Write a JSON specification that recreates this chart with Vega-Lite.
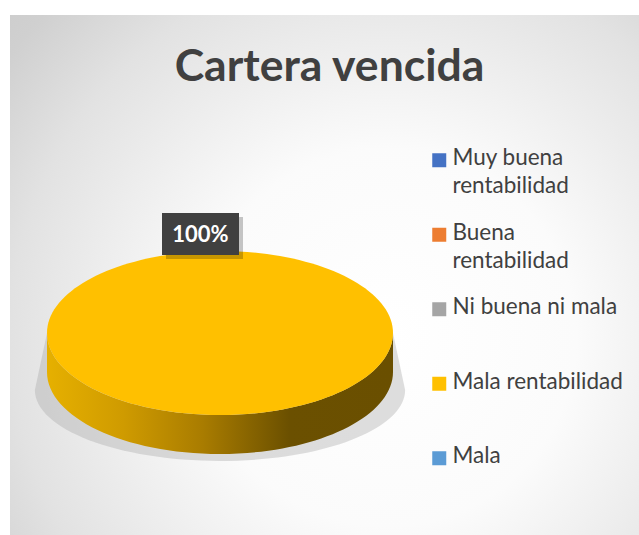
{
  "$schema": "https://vega.github.io/schema/vega-lite/v6.json",
  "width": 629,
  "height": 520,
  "autosize": {"type": "none"},
  "padding": {"left": 10, "top": 15, "right": 0, "bottom": 0},
  "background": "#ffffff",
  "title": {
    "text": "Cartera vencida",
    "font": "Lato",
    "fontSize": 44.5,
    "fontWeight": "bold",
    "color": "#404040",
    "anchor": "middle",
    "frame": "group",
    "offset": -75,
    "dx": 5
  },
  "config": {"view": {"stroke": "#bfbfbf", "strokeWidth": 1}},
  "data": {
    "values": [
      {"categoria": "Muy buena rentabilidad", "porcentaje": 0},
      {"categoria": "Buena rentabilidad", "porcentaje": 0},
      {"categoria": "Ni buena ni mala", "porcentaje": 0},
      {"categoria": "Mala rentabilidad", "porcentaje": 1},
      {"categoria": "Mala", "porcentaje": 0}
    ]
  },
  "layer": [
    {
      "transform": [{"filter": "datum.porcentaje > 0"}],
      "mark": {
        "type": "rect",
        "fill": {
          "gradient": "radial",
          "x1": 0.6, "y1": 0.6, "r1": 0,
          "x2": 0.6, "y2": 0.6, "r2": 1,
          "stops": [
            {"offset": 0, "color": "#ffffff"},
            {"offset": 0.3, "color": "#fbfbfb"},
            {"offset": 0.6, "color": "#e2e2e2"},
            {"offset": 0.75, "color": "#d0d0d0"},
            {"offset": 0.9, "color": "#c8c8c8"},
            {"offset": 1, "color": "#c6c6c6"}
          ]
        }
      },
      "encoding": {}
    },
    {
      "transform": [{"filter": "datum.porcentaje > 0"}],
      "mark": {
        "type": "point",
        "shape": "M -1,0 L -1.07,0.33 A 1.07,0.41 0 0,0 1.07,0.33 L 1,0 Z",
        "size": 119716,
        "filled": true,
        "fill": "#a8a8a8",
        "opacity": 0.38,
        "strokeWidth": 0,
        "xOffset": -104.5,
        "yOffset": 58
      },
      "encoding": {}
    },
    {
      "transform": [{"filter": "datum.porcentaje > 0"}],
      "mark": {
        "type": "point",
        "shape": "M -1,0 A 1,0.474 0 0,0 1,0 L 1,0.225 A 1,0.474 0 0,1 -1,0.225 Z",
        "size": 119716,
        "filled": true,
        "opacity": 1,
        "strokeWidth": 0,
        "fill": {
          "gradient": "linear",
          "x1": 0, "y1": 0, "x2": 1, "y2": 0,
          "stops": [
            {"offset": 0, "color": "#e6b000"},
            {"offset": 0.22, "color": "#cf9b00"},
            {"offset": 0.45, "color": "#a97c00"},
            {"offset": 0.7, "color": "#6b5000"},
            {"offset": 1, "color": "#6a4f00"}
          ]
        },
        "xOffset": -104.5,
        "yOffset": 58
      },
      "encoding": {}
    },
    {
      "transform": [{"filter": "datum.porcentaje > 0"}],
      "mark": {
        "type": "point",
        "shape": "M -1,0 A 1,0.474 0 1,0 1,0 A 1,0.474 0 1,0 -1,0 Z",
        "size": 119716,
        "filled": true,
        "opacity": 1,
        "strokeWidth": 0,
        "xOffset": -104.5,
        "yOffset": 58
      },
      "encoding": {
        "color": {
          "field": "categoria",
          "type": "nominal",
          "scale": {
            "domain": ["Muy buena rentabilidad", "Buena rentabilidad", "Ni buena ni mala", "Mala rentabilidad", "Mala"],
            "range": ["#4472c4", "#ed7d31", "#a5a5a5", "#ffc000", "#5b9bd5"]
          },
          "legend": {
            "orient": "none",
            "legendX": 418,
            "legendY": 134,
            "title": null,
            "symbolType": "square",
            "symbolSize": 196,
            "symbolStrokeWidth": 0,
            "symbolOpacity": 1,
            "labelFont": "Lato",
            "labelFontSize": 22.5,
            "labelColor": "#404040",
            "labelOffset": 2,
            "labelLimit": 300,
            "labelBaseline": "top",
            "rowPadding": 23.5,
            "labelExpr": "datum.label == 'Muy buena rentabilidad' ? ['Muy buena', 'rentabilidad'] : datum.label == 'Buena rentabilidad' ? ['Buena', 'rentabilidad'] : [datum.label, '']",
            "encode": {
              "labels": {"update": {"lineHeight": {"value": 28}, "dy": {"value": -13}}}
            }
          }
        }
      }
    },
    {
      "transform": [{"filter": "datum.porcentaje > 0"}],
      "mark": {
        "type": "point",
        "shape": "M -1,-0.545 L 1,-0.545 L 1,0.545 L -1,0.545 Z",
        "size": 5929,
        "filled": true,
        "fill": "#000000",
        "opacity": 0.22,
        "strokeWidth": 0,
        "xOffset": -120,
        "yOffset": -37
      },
      "encoding": {}
    },
    {
      "transform": [{"filter": "datum.porcentaje > 0"}],
      "mark": {
        "type": "point",
        "shape": "M -1,-0.545 L 1,-0.545 L 1,0.545 L -1,0.545 Z",
        "size": 5929,
        "filled": true,
        "fill": "#404040",
        "opacity": 1,
        "strokeWidth": 0,
        "xOffset": -124,
        "yOffset": -41
      },
      "encoding": {}
    },
    {
      "transform": [{"filter": "datum.porcentaje > 0"}],
      "mark": {
        "type": "text",
        "font": "Lato",
        "fontSize": 22,
        "fontWeight": "bold",
        "color": "#ffffff",
        "align": "center",
        "baseline": "middle",
        "xOffset": -124,
        "yOffset": -40
      },
      "encoding": {
        "text": {"field": "porcentaje", "type": "quantitative", "format": ".0%"}
      }
    }
  ]
}
